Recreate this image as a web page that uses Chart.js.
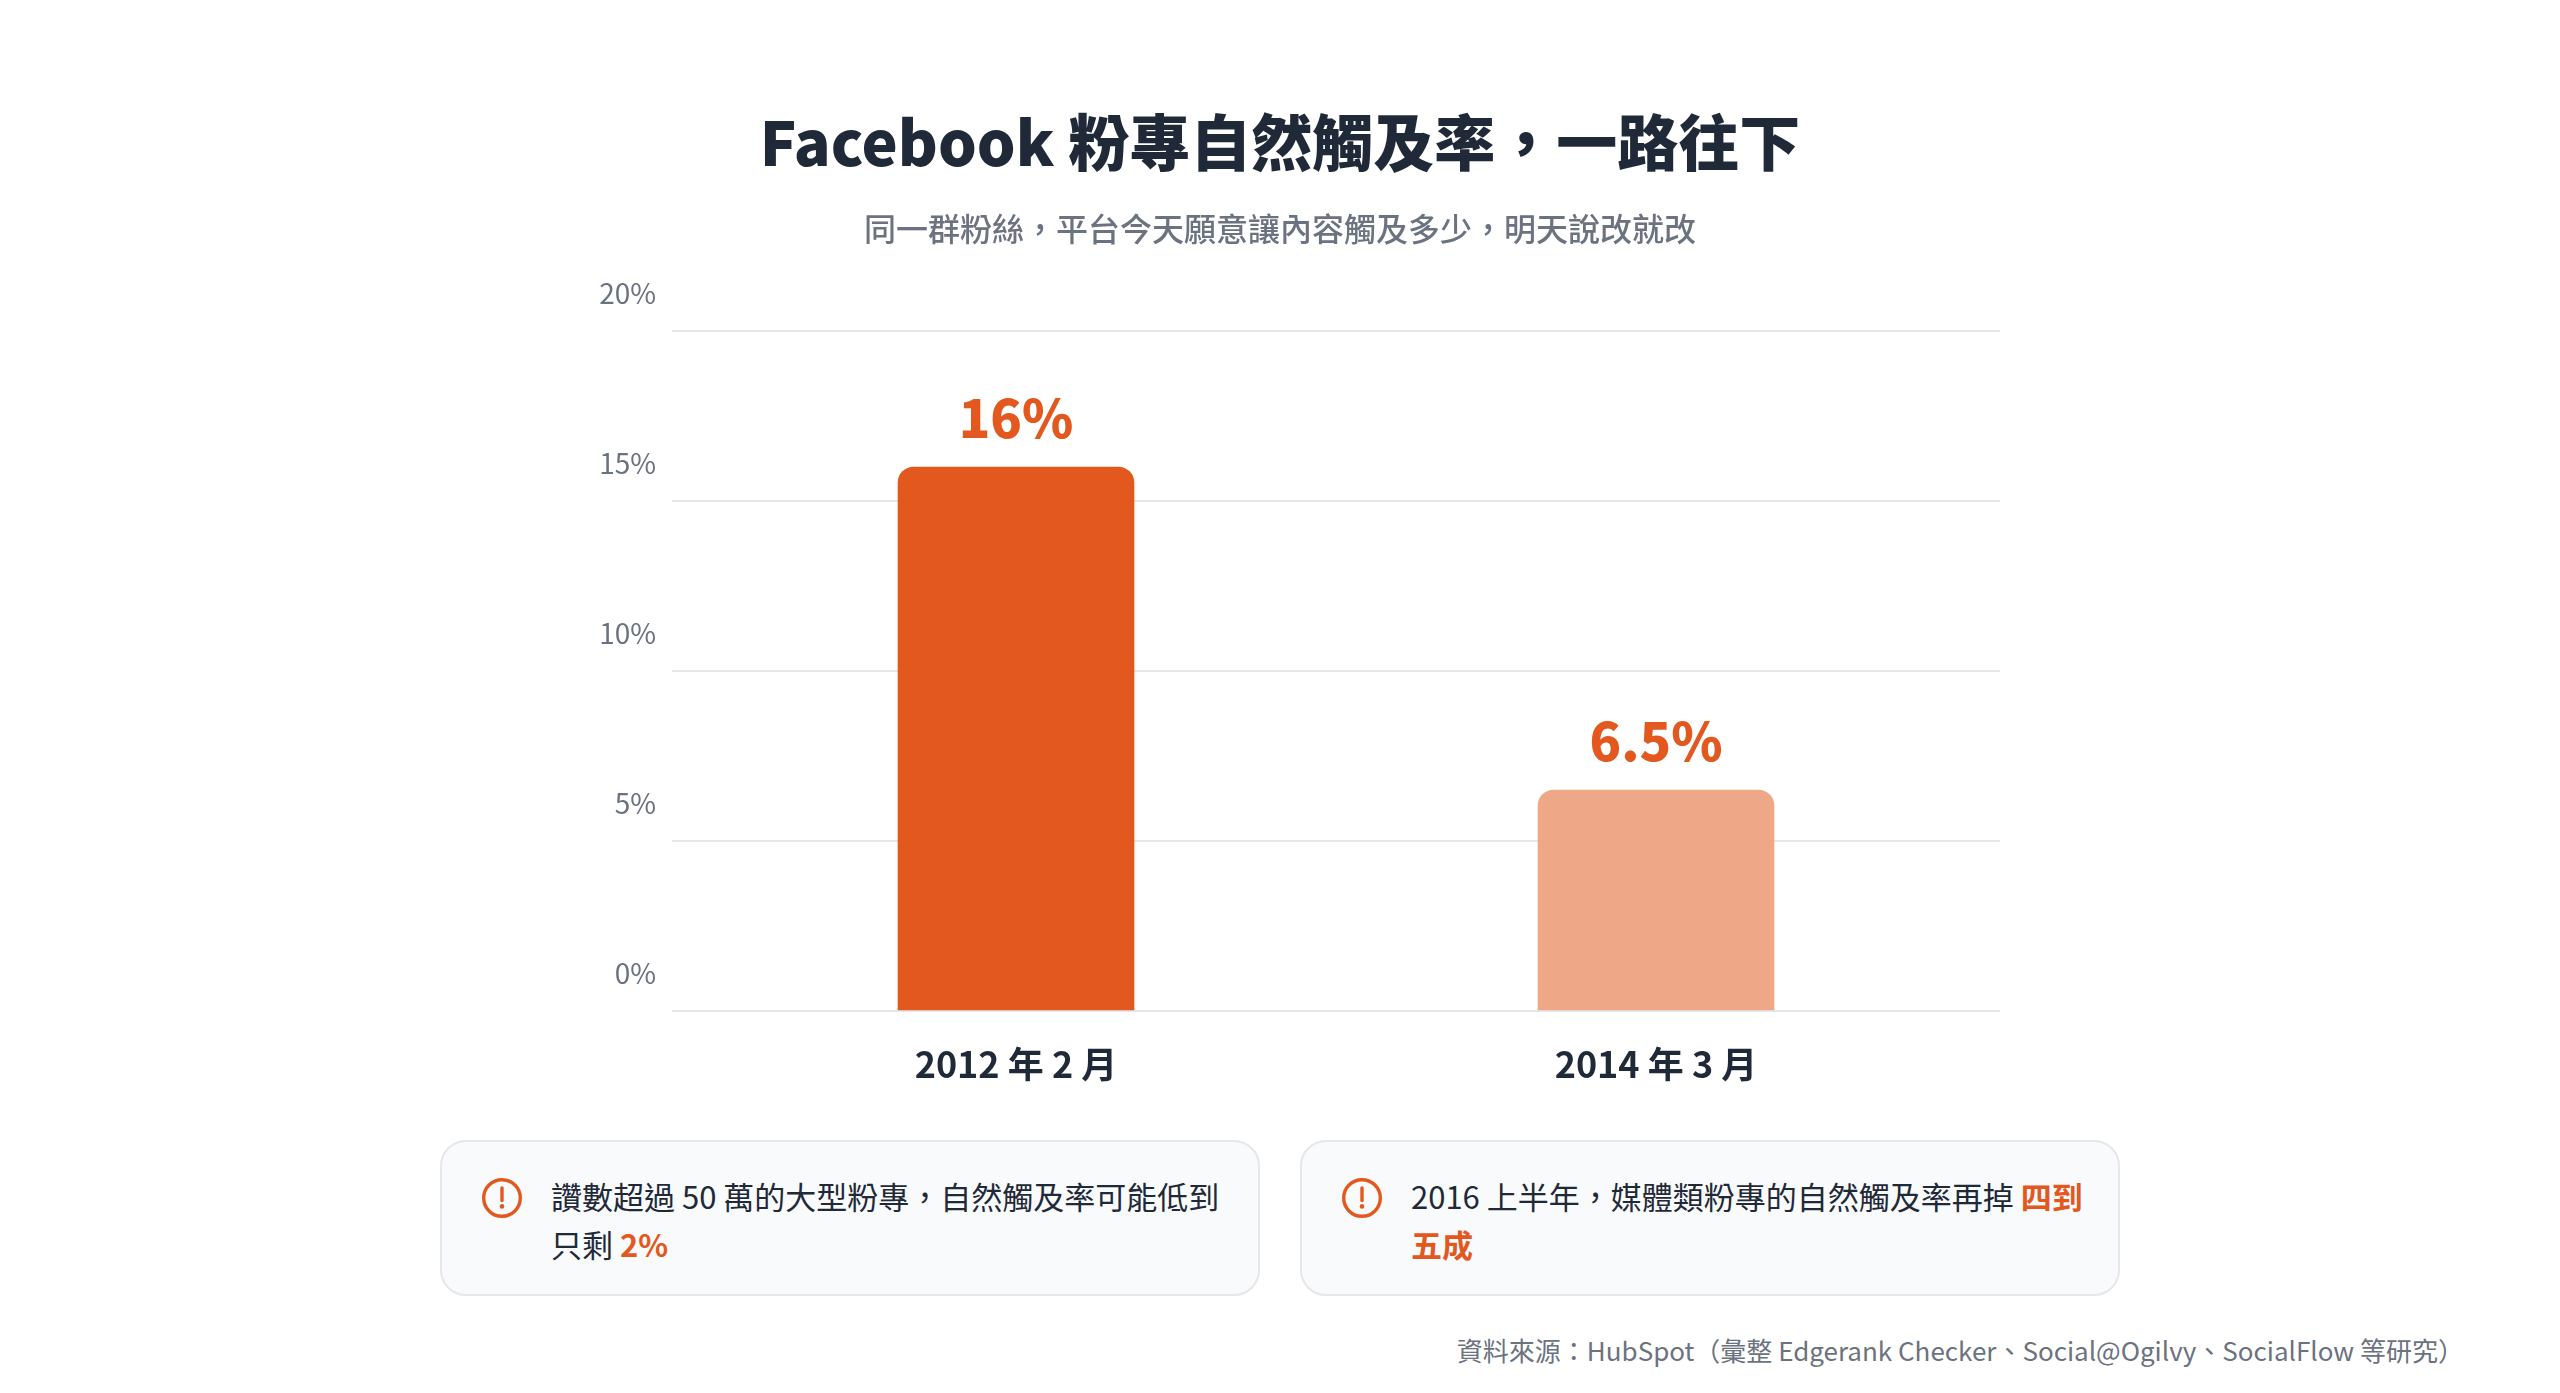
<!DOCTYPE html>
<html lang="zh-Hant">
<head>
<meta charset="utf-8">
<title>Facebook 粉專自然觸及率</title>
<script src="https://cdn.jsdelivr.net/npm/chart.js@4"></script>
<style>
html,body{margin:0;padding:0;background:#fff;width:2560px;height:1393px;overflow:hidden;font-family:"Noto Sans CJK TC","Noto Sans",sans-serif;}
#chart{position:absolute;left:0;top:0;}
.card{position:absolute;top:1140px;width:820px;height:156px;box-sizing:border-box;background:#f8fafc;border:2px solid #e5e7eb;border-radius:26px;}
.card svg{position:absolute;left:38px;top:34px;}
.card p{position:absolute;left:109px;top:30px;width:684px;margin:0;font-size:31px;line-height:48px;color:#1f2937;}
.card b{color:#e2581e;font-weight:700;}
#source{position:absolute;right:96px;top:1329px;font-size:26px;line-height:42px;color:#6b7280;white-space:nowrap;}
</style>
</head>
<body>
<canvas id="chart" width="2560" height="1120"></canvas>
<div class="card" style="left:440px">
  <svg width="44" height="44" viewBox="0 0 44 44"><circle cx="22" cy="22" r="18.3" fill="none" stroke="#e2581e" stroke-width="3.4"/><line x1="22" y1="12" x2="22" y2="24.5" stroke="#e2581e" stroke-width="3.4" stroke-linecap="round"/><circle cx="22" cy="30.4" r="2.3" fill="#e2581e"/></svg>
  <p>讚數超過 50 萬的大型粉專，自然觸及率可能低到只剩 <b>2%</b></p>
</div>
<div class="card" style="left:1300px">
  <svg width="44" height="44" viewBox="0 0 44 44"><circle cx="22" cy="22" r="18.3" fill="none" stroke="#e2581e" stroke-width="3.4"/><line x1="22" y1="12" x2="22" y2="24.5" stroke="#e2581e" stroke-width="3.4" stroke-linecap="round"/><circle cx="22" cy="30.4" r="2.3" fill="#e2581e"/></svg>
  <p>2016 上半年，媒體類粉專的自然觸及率再掉 <b>四到五成</b></p>
</div>
<div id="source">資料來源：HubSpot（彙整 Edgerank Checker、Social@Ogilvy、SocialFlow 等研究）</div>
<script>
const FONT = '"Noto Sans CJK TC","Noto Sans",sans-serif';
const categories = ['2012 年 2 月', '2014 年 3 月'];
const reachValues = [16, 6.5];
const valueLabels = ['16%', '6.5%'];
const barColors = ['#e2581e', '#eea887'];
const yTicks = [0, 5, 10, 15, 20];

const valueLabelPlugin = {
  id: 'valueLabels',
  afterDatasetsDraw(chart) {
    const ctx = chart.ctx;
    const meta = chart.getDatasetMeta(0);
    ctx.save();
    ctx.font = '800 52px ' + FONT;
    ctx.fillStyle = '#e2581e';
    ctx.textAlign = 'center';
    ctx.textBaseline = 'alphabetic';
    meta.data.forEach((bar, i) => ctx.fillText(valueLabels[i], bar.x, bar.y - 29));
    ctx.restore();
  }
};

new Chart(document.getElementById('chart'), {
  type: 'bar',
  data: {
    datasets: [{
      data: categories.map((c, i) => ({x: i, y: reachValues[i]})),
      backgroundColor: barColors,
      borderRadius: {topLeft: 16, topRight: 16, bottomLeft: 0, bottomRight: 0},
      borderSkipped: false,
      barThickness: 236
    }]
  },
  plugins: [valueLabelPlugin],
  options: {
    responsive: false,
    animation: false,
    layout: {padding: {top: 96, right: 0, bottom: 0, left: 0}},
    plugins: {
      legend: {display: false},
      tooltip: {enabled: false},
      title: {
        display: true,
        text: 'Facebook 粉專自然觸及率，一路往下',
        color: '#1f2937',
        font: {family: FONT, size: 61, weight: '900', lineHeight: 1.2},
        padding: {top: 10, bottom: 30}
      },
      subtitle: {
        display: true,
        text: '同一群粉絲，平台今天願意讓內容觸及多少，明天說改就改',
        color: '#6b7280',
        font: {family: FONT, size: 32, weight: '500', lineHeight: 1.2},
        padding: {top: 0, bottom: 83.4}
      }
    },
    scales: {
      x: {
        type: 'linear',
        offset: false,
        min: -0.5375,
        max: 1.5375,
        afterBuildTicks(axis) { axis.ticks = categories.map((c, i) => ({value: i})); },
        afterFit(axis) { axis.height = 109; },
        grid: {display: false},
        border: {display: false},
        ticks: {
          autoSkip: false,
          maxRotation: 0,
          padding: 24,
          color: '#1f2937',
          font: {family: FONT, size: 36, weight: '700'},
          callback: (v) => categories[v]
        }
      },
      y: {
        min: 0,
        max: 20,
        afterBuildTicks(axis) { axis.ticks = yTicks.map(v => ({value: v})); },
        afterFit(axis) { axis.width = 672; },
        grid: {color: '#e5e7eb', lineWidth: 2, drawTicks: false},
        border: {display: false},
        ticks: {
          padding: 16,
          labelOffset: -38,
          color: '#6b7280',
          font: {family: FONT, size: 28, weight: '400'},
          callback: (v) => v + '%'
        }
      },
      rightMargin: {
        position: 'right',
        display: true,
        afterFit(axis) { axis.width = 560; },
        grid: {display: false},
        border: {display: false},
        ticks: {display: false}
      }
    }
  }
});
</script>
</body>
</html>
